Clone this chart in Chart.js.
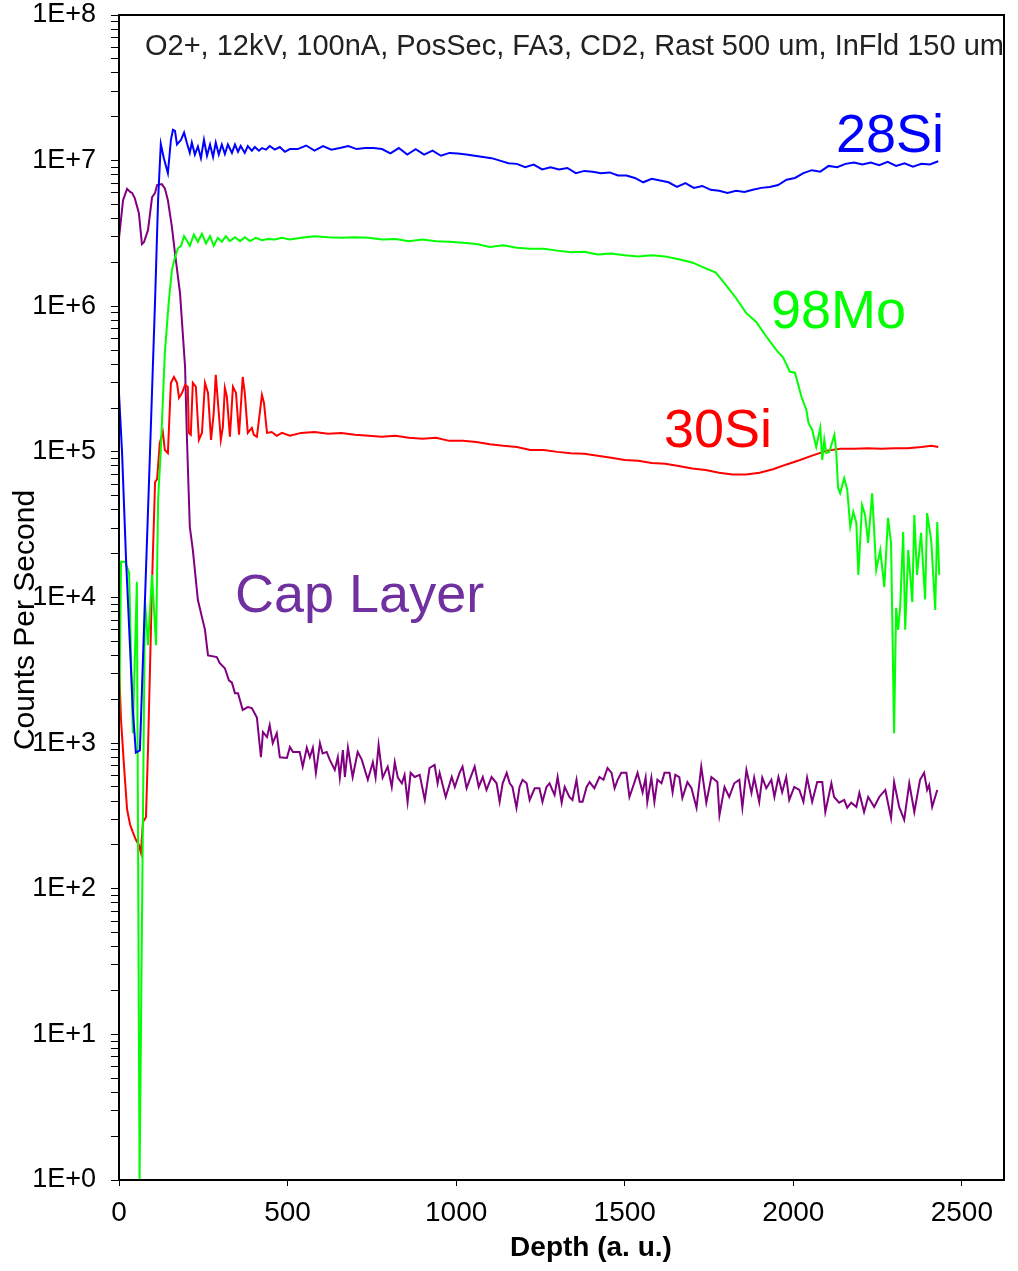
<!DOCTYPE html>
<html>
<head>
<meta charset="utf-8">
<title>SIMS depth profile</title>
<script src="https://cdn.jsdelivr.net/npm/chart.js@4.4.1/dist/chart.umd.min.js"></script>
<style>
  html, body { margin: 0; padding: 0; background: #fff; }
  canvas { display: block; }
</style>
</head>
<body>
<canvas id="plot" width="1018" height="1271"></canvas>
<script>
/* ---------------- Data ---------------- */
// depth in a.u., counts per second

const si28Depth = [0,9,21,33,41,50,62,77,92,107,116,124,133,145,154,160,166,172,184,193,201,210,216,225,234,243,252,261,270,279,287,296,305,314,323,335,344,353,361,373,382,394,403,415,424,436,447,462,477,492,507,
  530,555,580,605,630,655,680,705,730,755,780,805,830,855,880,905,930,955,980,1005,1030,1055,1080,1105,1130,1155,1180,1205,1230,1255,1280,1305,1330,1355,1380,1405,1430,1455,1480,1505,1530,1555,
  1580,1605,1630,1655,1680,1705,1730,1755,1780,1805,1830,1855,1880,1905,1930,1955,1980,2005,2030,2055,2080,2105,2130,2155,2180,2205,2230,2255,2280,2305,2330,2355,2380,2405,2430];
const si28Counts = [2.5e5,1.0e5,1.8e4,4.4e3,1.7e3,860,890,9.6e3,1.0e5,1.1e6,5.4e6,1.3e7,1.04e7,8.2e6,1.39e7,1.63e7,1.6e7,1.29e7,1.39e7,1.56e7,1.33e7,1.13e7,1.33e7,1.1e7,1.25e7,1.04e7,1.39e7,1.08e7,1.29e7,1.06e7,1.33e7,1.1e7,1.29e7,1.11e7,1.29e7,1.13e7,1.29e7,1.15e7,1.26e7,1.13e7,1.26e7,1.17e7,1.24e7,1.17e7,1.22e7,1.19e7,1.26e7,1.19e7,1.24e7,1.15e7,1.2e7,
  1.2e7,1.27e7,1.17e7,1.26e7,1.19e7,1.22e7,1.26e7,1.2e7,1.22e7,1.22e7,1.2e7,1.12e7,1.22e7,1.1e7,1.2e7,1.1e7,1.17e7,1.08e7,1.13e7,1.12e7,1.1e7,1.08e7,1.06e7,1.04e7,1.0e7,9.6e6,9.5e6,9.0e6,9.4e6,8.7e6,9.0e6,8.7e6,8.9e6,8.2e6,8.5e6,8.4e6,8.2e6,8.3e6,7.9e6,7.9e6,7.6e6,7.1e6,
  7.5e6,7.3e6,7.1e6,6.6e6,7.0e6,6.5e6,6.7e6,6.3e6,6.2e6,6.0e6,6.2e6,6.1e6,6.3e6,6.5e6,6.6e6,6.8e6,7.4e6,7.6e6,8.2e6,8.6e6,8.4e6,9.2e6,9.0e6,9.5e6,9.7e6,9.4e6,9.7e6,9.3e6,9.8e6,9.2e6,9.6e6,9.1e6,9.5e6,9.4e6,9.9e6];

const mo98Depth = [0,6,18,30,41,53,61,77,86,98,110,116,124,136,148,157,166,175,184,193,201,210,222,234,246,258,270,281,293,305,317,329,344,359,373,388,406,424,441,462,483,507,
  540,580,620,660,700,740,780,820,860,900,940,980,1020,1060,1100,1140,1180,1220,1260,1300,1340,1380,1420,1460,1500,1540,1580,1620,1660,1700,1740,1770,1800,1830,1860,1890,1920,1950,1970,1990,2005,
  2024,2039,2045,2056,2068,2080,2086,2092,2098,2107,2122,2127,2133,2139,2151,2160,2169,2178,2187,2193,2204,2213,2222,2234,2246,2258,2270,2281,2290,2299,2305,2311,2317,2326,2332,2341,2353,2359,2367,2379,2391,2397,2409,2421,2427,2433];
const mo98Counts = [1.17e3,1.76e4,1.76e4,1.48e4,1.17e3,1.28e4,1,9.6e3,4.7e3,1.43e4,4.7e3,4.7e4,1.03e5,4.8e5,1.1e6,1.77e6,2.17e6,2.5e6,2.6e6,3.03e6,2.84e6,2.6e6,3.1e6,2.77e6,3.15e6,2.7e6,3.03e6,2.6e6,2.95e6,2.77e6,3.03e6,2.8e6,2.98e6,2.8e6,2.98e6,2.8e6,2.95e6,2.84e6,2.9e6,2.87e6,2.95e6,2.87e6,
  2.95e6,3.03e6,2.98e6,2.95e6,2.98e6,2.95e6,2.87e6,2.9e6,2.8e6,2.87e6,2.8e6,2.77e6,2.73e6,2.68e6,2.55e6,2.62e6,2.52e6,2.48e6,2.48e6,2.41e6,2.35e6,2.37e6,2.27e6,2.3e6,2.24e6,2.2e6,2.24e6,2.2e6,2.1e6,2.0e6,1.82e6,1.7e6,1.4e6,1.14e6,9.0e5,7.8e5,6.2e5,5.0e5,4.45e5,3.55e5,3.5e5,
  2.4e5,1.94e5,1.58e5,1.42e5,1.08e5,1.46e5,8.8e4,1.21e5,9.8e4,1.0e5,1.31e5,1.03e5,5.65e4,5.2e4,6.6e4,5.5e4,3.06e4,3.87e4,3.25e4,1.43e4,4.32e4,3.69e4,2.37e4,5.2e4,1.55e4,2.12e4,1.18e4,3.52e4,2.37e4,1.17e3,8.5e3,6.0e3,8.6e3,2.82e4,6.0e3,2.12e4,9.3e3,3.69e4,1.43e4,2.78e4,9.7e3,3.8e4,2.48e4,8.2e3,3.3e4,1.43e4];

const si30Depth = [0,6,15,24,33,41,50,59,65,71,80,86,92,98,107,113,121,130,136,145,154,163,172,178,187,196,204,207,213,219,228,237,246,255,264,273,281,287,296,302,308,314,320,329,338,347,356,367,373,382,394,400,409,424,430,439,453,468,483,507,
  540,580,620,660,700,740,780,820,860,900,940,980,1020,1060,1100,1140,1180,1220,1260,1300,1340,1380,1420,1460,1500,1540,1580,1620,1660,1700,1740,1780,1820,1860,1900,1940,1980,2020,2060,2100,2140,2180,2220,2260,2300,2340,2380,2410,2430];
const si30Counts = [3.5e3,1.44e3,690,350,275,245,217,200,177,288,310,900,3.3e3,1.27e4,6.2e4,6.5e4,1.15e5,1.37e5,1.03e5,9.8e4,2.98e5,3.27e5,2.98e5,2.35e5,2.54e5,2.88e5,2.8e5,1.35e5,1.31e5,2.98e5,2.8e5,1.21e5,1.35e5,2.98e5,2.54e5,1.21e5,1.85e5,3.38e5,1.85e5,1.21e5,1.48e5,2.75e5,2.39e5,1.27e5,2.8e5,2.54e5,1.31e5,3.27e5,2.54e5,1.35e5,1.46e5,1.31e5,1.27e5,2.46e5,2.17e5,1.35e5,1.37e5,1.29e5,1.35e5,1.29e5,
  1.35e5,1.37e5,1.33e5,1.35e5,1.31e5,1.29e5,1.27e5,1.29e5,1.25e5,1.23e5,1.25e5,1.19e5,1.19e5,1.17e5,1.13e5,1.1e5,1.08e5,1.03e5,1.03e5,1.0e5,9.8e4,9.7e4,9.4e4,9.1e4,8.8e4,8.7e4,8.4e4,8.3e4,8.0e4,7.7e4,7.5e4,7.2e4,7.0e4,7.0e4,7.2e4,7.6e4,8.2e4,8.8e4,9.5e4,1.02e5,1.05e5,1.05e5,1.06e5,1.05e5,1.06e5,1.06e5,1.08e5,1.1e5,1.08e5];

const capDepth = [0,12,24,33,39,47,59,68,74,86,98,107,113,127,136,145,157,166,181,196,201,210,219,234,255,264,290,299,314,326,335,344,353,367,382,394,409,421,427,439,447,456,468,477,498,507,516,
  536,545,557,566,575,584,596,604,616,625,640,649,655,664,670,679,693,708,720,738,753,761,770,782,797,809,818,827,839,847,856,865,877,892,907,921,936,945,951,969,987,996,1010,1019,1031,1040,1055,1067,1079,1090,1105,1120,1129,1138,1150,1159,1167,1179,1188,1197,1209,1218,1233,1247,1256,1268,1277,1292,1301,1313,1322,1336,1345,1357,1366,1375,1387,1396,1410,1425,1437,1449,1461,1470,1479,1490,1505,1514,1523,1538,
  1553,1562,1567,1579,1588,1597,1609,1618,1633,1642,1650,1662,1671,1686,1698,1713,1727,1742,1757,1775,1781,1796,1810,1825,1840,1849,1861,1876,1884,1899,1908,1920,1935,1944,1956,1967,1979,1988,2003,2018,2030,2041,2056,2071,2086,2095,2113,2121,2136,2151,2160,2172,2187,2196,2210,2222,2240,2255,2273,2290,2299,2314,2329,2344,2359,2376,2388,2397,2403,2412,2427];
const capCounts = [2.94e6,5.35e6,6.4e6,6.1e6,6.0e6,5.5e6,4.35e6,2.67e6,2.75e6,3.33e6,5.6e6,6.0e6,6.8e6,6.9e6,6.45e6,5.35e6,3.5e6,2.32e6,1.23e6,3.83e5,1.35e5,3.06e4,2.12e4,9.6e3,6.0e3,4.0e3,3.9e3,3.54e3,3.27e3,2.7e3,2.6e3,2.2e3,2.2e3,1.69e3,1.77e3,1.74e3,1.5e3,800,1.19e3,1.1e3,1.33e3,1.0e3,1.17e3,800,790,940,870,
  870,690,930,800,930,625,1000,850,870,770,655,800,580,895,585,930,585,870,770,560,740,580,970,580,690,500,740,580,530,605,395,625,585,605,407,675,710,530,625,427,585,500,625,690,490,560,690,500,585,477,585,530,395,530,625,530,500,360,500,560,530,407,490,490,395,500,530,440,585,390,500,427,407,560,395,395,500,540,490,585,560,675,625,490,560,625,625,427,490,625,
  460,580,395,580,395,560,530,625,625,460,605,585,420,540,490,360,690,390,585,540,320,500,427,530,560,360,655,455,580,395,580,490,560,427,585,460,585,407,500,477,395,580,395,540,540,337,530,427,390,407,360,390,365,455,337,427,365,427,477,306,540,365,297,530,337,560,625,477,515,365,477];

const xTicks = [0, 500, 1000, 1500, 2000, 2500];
const yTickLabels = ["1E+0","1E+1","1E+2","1E+3","1E+4","1E+5","1E+6","1E+7","1E+8"];

/* ---------------- Helpers ---------------- */
const FONT = "'Liberation Sans', Arial, Helvetica, sans-serif";
const pairs = (xs, ys) => xs.map((x, i) => ({ x, y: ys[i] }));

function series(label, xs, ys, color){
  return { label, data: pairs(xs, ys), borderColor: color, backgroundColor: color,
           borderWidth: 2, pointRadius: 0, tension: 0, fill: false };
}

/* ---------------- Labels, frame and axis titles ---------------- */
const decor = {
  id: "decor",
  afterDatasetsDraw(chart){
    const { ctx, chartArea: a } = chart;
    ctx.save();
    ctx.beginPath();
    ctx.rect(a.left, a.top, a.right - a.left, a.bottom - a.top);
    ctx.clip();
    ctx.textAlign = "left";
    ctx.textBaseline = "alphabetic";
    ctx.fillStyle = "#222";
    ctx.font = `29px ${FONT}`;
    ctx.fillText("O2+, 12kV, 100nA, PosSec, FA3, CD2, Rast 500 um, InFld 150 um", 145, 55);
    ctx.font = `54px ${FONT}`;
    ctx.fillStyle = "#0000ff"; ctx.fillText("28Si", 836, 152);
    ctx.fillStyle = "#00ff00"; ctx.fillText("98Mo", 771, 328);
    ctx.fillStyle = "#ff0000"; ctx.fillText("30Si", 664, 447);
    ctx.fillStyle = "#7030a0"; ctx.fillText("Cap Layer", 235, 612);
    ctx.restore();

    ctx.save();
    ctx.strokeStyle = "#000";
    ctx.lineWidth = 2;
    ctx.strokeRect(a.left, a.top, a.right - a.left, a.bottom - a.top);
    ctx.restore();
  },
  afterDraw(chart){
    const { ctx } = chart;
    ctx.save();
    ctx.fillStyle = "#000";
    ctx.textAlign = "center";
    ctx.font = `bold 28px ${FONT}`;
    ctx.textBaseline = "alphabetic";
    ctx.fillText("Depth (a. u.)", 591, 1256);
    ctx.translate(26, 620);
    ctx.rotate(-Math.PI / 2);
    ctx.font = `30px ${FONT}`;
    ctx.textBaseline = "middle";
    ctx.fillText("Counts Per Second", 0, 0);
    ctx.restore();
  }
};

/* ---------------- Chart ---------------- */
new Chart(document.getElementById("plot"), {
  type: "line",
  data: {
    datasets: [
      series("28Si", si28Depth, si28Counts, "#0000ff"),
      series("98Mo", mo98Depth, mo98Counts, "#00ff00"),
      series("30Si", si30Depth, si30Counts, "#ff0000"),
      series("Cap Layer", capDepth, capCounts, "#800080"),
    ]
  },
  options: {
    responsive: false,
    devicePixelRatio: 1,
    animation: false,
    layout: { padding: { top: 15, right: 14, left: 0, bottom: 0 } },
    plugins: { legend: { display: false }, tooltip: { enabled: false } },
    scales: {
      x: {
        type: "linear",
        min: 0, max: 2625,
        afterBuildTicks: axis => { axis.ticks = xTicks.map(v => ({ value: v })); },
        afterFit: axis => { axis.height = 91; },
        grid: { drawOnChartArea: false, drawTicks: true, tickLength: 6, color: "#000" },
        border: { display: true, color: "#000", width: 2 },
        ticks: { autoSkip: false, maxRotation: 0, padding: 10, color: "#000",
                 font: { family: FONT, size: 28 },
                 callback: v => String(v) }
      },
      y: {
        type: "logarithmic",
        min: 1, max: 1e8,
        afterBuildTicks: axis => {
          const t = [];
          yTickLabels.forEach((lab, e) => {
            for (let m = 1; m <= 9; m++){
              if (e === yTickLabels.length - 1 && m > 1) break;
              t.push({ value: m * Math.pow(10, e), major: m === 1 });
            }
          });
          axis.ticks = t;
        },
        // fixed width; drop the label padding so the plot top sits at 15px
        afterFit: axis => { axis.width = 119; axis.paddingTop = 0; axis.paddingBottom = 0; },
        grid: { drawOnChartArea: false, drawTicks: true, tickLength: 8, color: "#000" },
        border: { display: true, color: "#000", width: 2 },
        ticks: {
          autoSkip: false, padding: 15, color: "#000",
          font: { family: FONT, size: 27 },
          callback: (v, i, ticks) => ticks[i].major ? yTickLabels[Math.round(Math.log10(v))] : ""
        }
      }
    }
  },
  plugins: [decor]
});
</script>
</body>
</html>
